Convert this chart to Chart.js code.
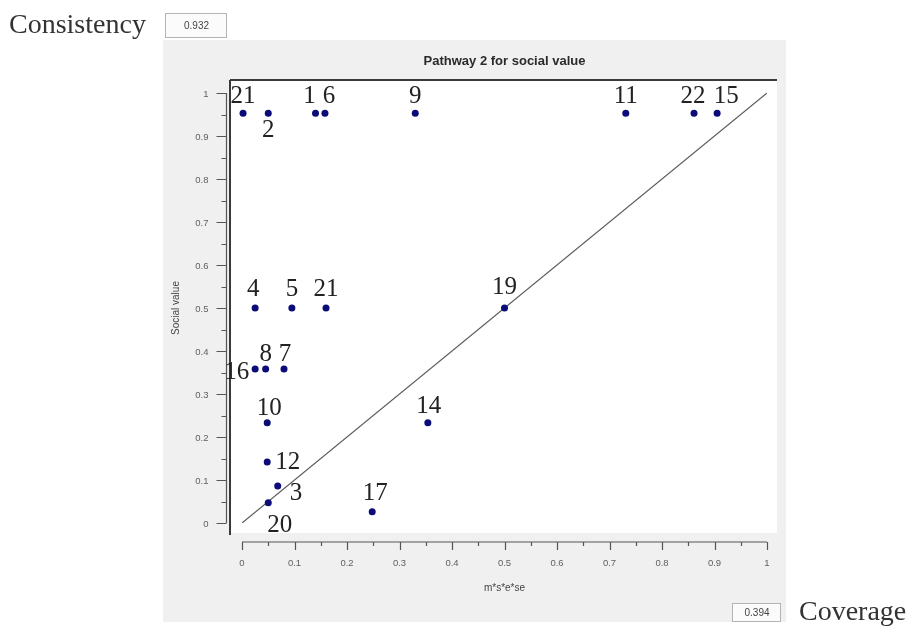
<!DOCTYPE html>
<html>
<head>
<meta charset="utf-8">
<script src="https://cdn.jsdelivr.net/npm/chart.js@4/dist/chart.umd.min.js"></script>
<style>
  html, body { margin: 0; padding: 0; background: #ffffff; }
  canvas { display: block; }
</style>
</head>
<body>
<canvas id="c" width="909" height="627"></canvas>
<script>
// Case identifiers and their coordinates (m*s*e*se vs social value)
const caseIds = ["21", "2", "1", "6", "9", "11", "22", "15",
                 "4", "5", "21", "19",
                 "16", "8", "7",
                 "10", "14", "12", "3", "20", "17"];
const xValues = [0.002, 0.05, 0.14, 0.158, 0.33, 0.731, 0.861, 0.905,
                 0.025, 0.095, 0.16, 0.5,
                 0.025, 0.045, 0.08,
                 0.048, 0.354, 0.048, 0.068, 0.05, 0.248];
const yValues = [0.953, 0.953, 0.953, 0.953, 0.953, 0.953, 0.953, 0.953,
                 0.5, 0.5, 0.5, 0.5,
                 0.358, 0.358, 0.358,
                 0.233, 0.233, 0.142, 0.086, 0.047, 0.026];
const tickValues = [0, 0.1, 0.2, 0.3, 0.4, 0.5, 0.6, 0.7, 0.8, 0.9, 1];
const tickLabels = ["0", "0.1", "0.2", "0.3", "0.4", "0.5", "0.6", "0.7", "0.8", "0.9", "1"];
const minorTicks = [0.05, 0.15, 0.25, 0.35, 0.45, 0.55, 0.65, 0.75, 0.85, 0.95];
const consistency = "0.932";
const coverage = "0.394";

// Where each case number sits relative to its dot: [dx, dy(baseline), align]
const labelPlacement = [
  [0, -10, "center"], [0, 24, "center"], [-6, -10, "center"], [4, -10, "center"],
  [0, -10, "center"], [0, -10, "center"], [-1, -10, "center"], [9, -10, "center"],
  [-2, -12, "center"], [0, -12, "center"], [0, -12, "center"], [0, -14, "center"],
  [-6, 10, "right"], [0, -8, "center"], [1, -8, "center"],
  [2, -8, "center"], [1, -10, "center"], [8, 7, "left"], [12, 14, "left"],
  [-1, 29, "left"], [3, -12, "center"]
];

const points = caseIds.map((id, i) => ({ x: xValues[i], y: yValues[i] }));
const diagonal = [{ x: 0, y: 0 }, { x: 1, y: 1 }];

const sans = "'Liberation Sans', Arial, sans-serif";
const serif = "'Liberation Serif', 'Times New Roman', serif";

const frame = {
  id: 'frame',
  beforeDraw(chart) {
    const c = chart.ctx;
    const xs = chart.scales.x, ys = chart.scales.y;
    const x0 = xs.getPixelForValue(0), x1 = xs.getPixelForValue(1);
    const y0 = ys.getPixelForValue(0), y1 = ys.getPixelForValue(1);
    c.save();
    c.fillStyle = '#ffffff';
    c.fillRect(0, 0, chart.width, chart.height);

    // grey panel
    c.fillStyle = '#f0f0f0';
    c.fillRect(163, 40, 623, 582);

    // white plotting field
    const pl = x0 - 12, pr = x1 + 10, pt = y1 - 13, pb = y0 + 10;
    c.fillStyle = '#ffffff';
    c.fillRect(pl, pt, pr - pl, pb - pt);

    // frame lines (top and left)
    c.strokeStyle = '#3a3a3a';
    c.lineWidth = 2;
    c.beginPath();
    c.moveTo(pl, pt); c.lineTo(pr, pt);
    c.moveTo(pl, pt); c.lineTo(pl, pb + 2);
    c.stroke();

    // title
    c.fillStyle = '#2a2a2a';
    c.font = 'bold 13px ' + sans;
    c.textAlign = 'center';
    c.textBaseline = 'middle';
    c.fillText('Pathway 2 for social value', (x0 + x1) / 2, 61);

    // y axis
    const ya = pl - 3.5;
    c.strokeStyle = '#555555';
    c.lineWidth = 1.2;
    c.beginPath();
    c.moveTo(ya, y1); c.lineTo(ya, y0);
    tickValues.forEach(v => { const p = Math.round(ys.getPixelForValue(v)) + 0.5; c.moveTo(ya, p); c.lineTo(ya - 10, p); });
    minorTicks.forEach(v => { const p = Math.round(ys.getPixelForValue(v)) + 0.5; c.moveTo(ya, p); c.lineTo(ya - 5, p); });
    c.stroke();
    c.fillStyle = '#606060';
    c.font = '9.5px ' + sans;
    c.textAlign = 'right';
    tickValues.forEach((v, i) => c.fillText(tickLabels[i], ya - 18, ys.getPixelForValue(v) + 1));

    // x axis
    const xa = pb + 9;
    c.beginPath();
    c.moveTo(x0, xa); c.lineTo(x1, xa);
    tickValues.forEach(v => { const p = Math.round(xs.getPixelForValue(v)) + 0.5; c.moveTo(p, xa); c.lineTo(p, xa + 8); });
    minorTicks.forEach(v => { const p = Math.round(xs.getPixelForValue(v)) + 0.5; c.moveTo(p, xa); c.lineTo(p, xa + 4); });
    c.stroke();
    c.textAlign = 'center';
    tickValues.forEach((v, i) => c.fillText(tickLabels[i], xs.getPixelForValue(v), xa + 21));

    // axis titles
    c.fillStyle = '#444444';
    c.font = '10px ' + sans;
    c.fillText('m*s*e*se', (x0 + x1) / 2, 588);
    c.save();
    c.translate(176, (y0 + y1) / 2);
    c.rotate(-Math.PI / 2);
    c.fillText('Social value', 0, 0);
    c.restore();

    // consistency / coverage read-outs
    c.fillStyle = '#333333';
    c.font = '28px ' + serif;
    c.textAlign = 'left';
    c.textBaseline = 'alphabetic';
    c.fillText('Consistency', 9, 33);
    c.fillText('Coverage', 799, 620);

    const box = (x, y, w, h, t) => {
      c.fillStyle = '#fbfbfb';
      c.fillRect(x, y, w, h);
      c.strokeStyle = '#b4b4b4';
      c.lineWidth = 1;
      c.strokeRect(x + 0.5, y + 0.5, w, h);
      c.fillStyle = '#444444';
      c.font = '10px ' + sans;
      c.textAlign = 'center';
      c.textBaseline = 'middle';
      c.fillText(t, x + w / 2 + 1, y + h / 2 + 1);
    };
    box(165, 13, 61, 24, consistency);
    box(732, 603, 48, 18, coverage);
    c.restore();
  },
  afterDatasetsDraw(chart) {
    const c = chart.ctx;
    const meta = chart.getDatasetMeta(0);
    c.save();
    c.fillStyle = '#222222';
    c.font = '25px ' + serif;
    c.textBaseline = 'alphabetic';
    meta.data.forEach((el, i) => {
      const [dx, dy, align] = labelPlacement[i];
      c.textAlign = align;
      c.fillText(caseIds[i], el.x + dx, el.y + dy);
    });
    c.restore();
  }
};

new Chart(document.getElementById('c'), {
  type: 'scatter',
  data: {
    datasets: [
      {
        label: 'cases',
        data: points,
        pointRadius: 3.5,
        pointBackgroundColor: '#0c0c78',
        pointBorderWidth: 0,
        clip: false,
        order: 0
      },
      {
        type: 'line',
        label: 'diagonal',
        data: diagonal,
        borderColor: '#5a5a5a',
        borderWidth: 1.2,
        pointRadius: 0,
        fill: false,
        order: 1
      }
    ]
  },
  options: {
    responsive: false,
    animation: false,
    devicePixelRatio: 1,
    layout: { padding: { left: 242, right: 142, top: 93, bottom: 104 } },
    plugins: { legend: { display: false }, tooltip: { enabled: false } },
    scales: {
      x: { type: 'linear', min: 0, max: 1, display: false },
      y: { type: 'linear', min: 0, max: 1, display: false }
    }
  },
  plugins: [frame]
});
</script>
</body>
</html>
